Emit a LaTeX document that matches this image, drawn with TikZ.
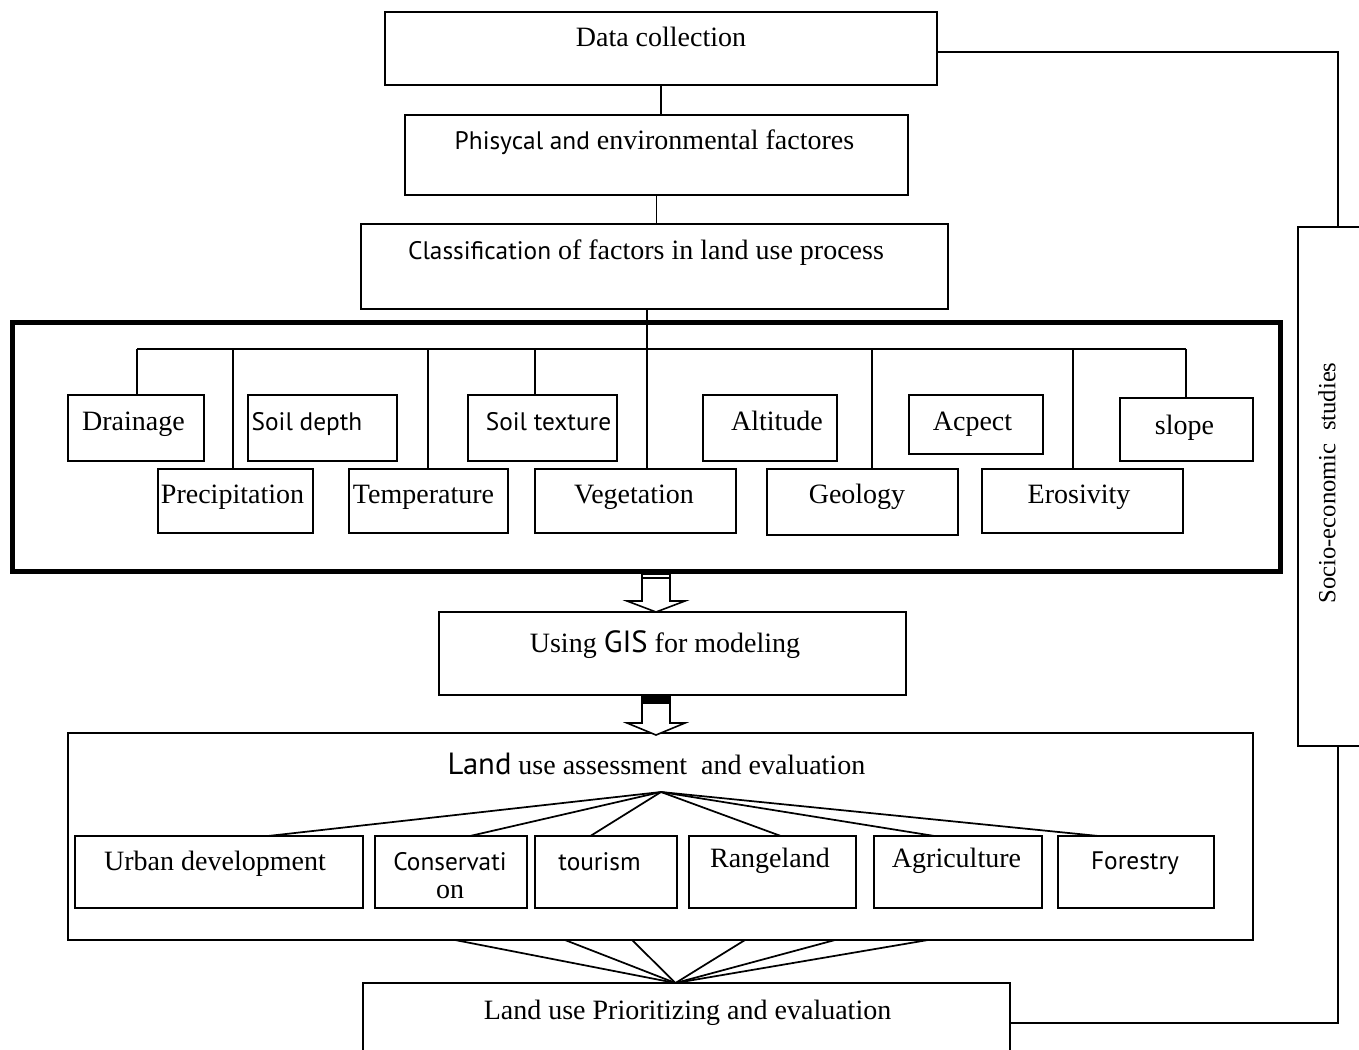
\documentclass[tikz,border=0pt]{standalone}
\usepackage{fontspec}
\setmainfont{Liberation Serif}
\newfontfamily\psans{PT Sans}
\usetikzlibrary{calc}
\begin{document}
\begin{tikzpicture}[x=0.75pt,y=-0.75pt]
\tikzset{
  box/.style={draw, line width=1.3pt, inner sep=0pt, outer sep=0pt, anchor=north west},
  sz/.style 2 args={minimum width=#1*0.75pt, minimum height=#2*0.75pt},
  txt/.style={inner sep=0pt, anchor=base, font=\fontsize{21}{25}\selectfont},
  ss/.style={font=\psans\fontsize{19}{23}\selectfont},
  conn/.style={line width=1.3pt},
  fan/.style={line width=1.3pt},
  hollow/.style={draw, fill=white, line width=1.2pt, line join=miter},
}
\newcommand{\sst}[1]{{\psans\fontsize{19}{23}\selectfont #1}}
\newcommand{\sbig}[1]{{\psans\fontsize{23}{27}\selectfont #1}}
\fill[white] (0,0) rectangle (1359,1049);
\useasboundingbox (0,0) rectangle (1359,1049);

% main boxes
\node[box, sz={552}{73}] (dc) at (385,12) {};
\node[box, sz={503}{80}] (phys) at (405,115) {};
\node[box, sz={587}{85}] (cls) at (361,224) {};
\node[box, sz={1268}{249}, line width=3.75pt] (fac) at (12,322) {};
\node[box, sz={467}{83}] (gis) at (439,612) {};
\node[box, sz={1185}{207}] (land) at (68,733) {};
\node[box, sz={647}{80}] (prio) at (363,983) {};
\node[box, sz={80}{519}] (socio) at (1298,227) {};

% factor boxes
\node[box, sz={136}{66}] (drain) at (68,395) {};
\node[box, sz={149}{66}] (sdep) at (248,395) {};
\node[box, sz={149}{66}] (stex) at (468,395) {};
\node[box, sz={134}{66}] (alt) at (703,395) {};
\node[box, sz={134}{59}] (acp) at (909,395) {};
\node[box, sz={133}{63}] (slope) at (1120,398) {};
\node[box, sz={155}{64}] (prec) at (158,469) {};
\node[box, sz={159}{64}] (temp) at (349,469) {};
\node[box, sz={201}{64}] (veg) at (535,469) {};
\node[box, sz={191}{66}] (geo) at (767,469) {};
\node[box, sz={201}{64}] (ero) at (982,469) {};

% land use boxes
\node[box, sz={288}{72}] (urb) at (75,836) {};
\node[box, sz={152}{72}] (cons) at (375,836) {};
\node[box, sz={142}{72}] (tour) at (535,836) {};
\node[box, sz={167}{72}] (rang) at (689,836) {};
\node[box, sz={168}{72}] (agri) at (874,836) {};
\node[box, sz={156}{72}] (fore) at (1058,836) {};

% texts
\node[txt] (t-dc) at (661,47) {Data collection};
\node[txt] (t-phys) at (654.5,149) {\sst{Phisycal and} environmental factores};
\node[txt] (t-cls) at (646,259) {\sst{Classification} of factors in land use process};
\node[txt] (t-drain) at (133.5,430) {Drainage};
\node[txt, ss] (t-sdep) at (307,430) {Soil depth};
\node[txt, ss] (t-stex) at (548.5,430) {Soil texture};
\node[txt] (t-alt) at (777,430) {Altitude};
\node[txt] (t-acp) at (972.5,430) {Acpect};
\node[txt] (t-slope) at (1184.5,434) {slope};
\node[txt] (t-prec) at (232.5,503) {Precipitation};
\node[txt] (t-temp) at (423.5,503) {Temperature};
\node[txt] (t-veg) at (634,503) {Vegetation};
\node[txt] (t-geo) at (857,503) {Geology};
\node[txt] (t-ero) at (1079,503) {Erosivity};
\node[txt] (t-gis) at (665,652) {Using \sbig{GIS} for modeling};
\node[txt] (t-land) at (656.5,774) {\sbig{Land} use assessment\ \ and evaluation};
\node[txt] (t-urb) at (215,870) {Urban development};
\node[txt, ss] (t-cons) at (450,870) {Conservati};
\node[txt] (t-cons2) at (450,898) {on};
\node[txt, ss] (t-tour) at (599.5,870) {tourism};
\node[txt] (t-rang) at (770,867) {Rangeland};
\node[txt] (t-agri) at (956.5,867) {Agriculture};
\node[txt, ss] (t-fore) at (1135,869) {Forestry};
\node[txt] (t-prio) at (687.5,1019) {Land use Prioritizing and evaluation};
\node[inner sep=0pt, rotate=90, font=\fontsize{18.5}{22}\selectfont] (t-socio) at (1327,483) {Socio-economic\ \ studies};

% vertical connectors top
\draw[conn] (dc.south) -- (dc.south |- phys.north);
\draw[conn] (phys.south) -- (phys.south |- cls.north);

% bus
\coordinate (busL) at (137,349);
\coordinate (busR) at (1186,349);
\draw[conn] (busL) -- (busR);
\coordinate (b1) at (137,349);
\coordinate (b2) at (233,349);
\coordinate (b3) at (428,349);
\coordinate (b4) at (535,349);
\coordinate (b5) at (647,349);
\coordinate (b6) at (872,349);
\coordinate (b7) at (1073,349);
\coordinate (b8) at (1186,349);
\draw[conn] (b1) -- (b1 |- drain.north);
\draw[conn] (b2) -- (b2 |- prec.north);
\draw[conn] (b3) -- (b3 |- temp.north);
\draw[conn] (b4) -- (b4 |- stex.north);
\draw[conn] (b5 |- cls.south) -- (b5 |- veg.north);
\draw[conn] (b6) -- (b6 |- geo.north);
\draw[conn] (b7) -- (b7 |- ero.north);
\draw[conn] (b8) -- (b8 |- slope.north);

% socio connectors
\coordinate (rtop) at (1338,52);
\coordinate (rbot) at (1338,1023);
\draw[conn] (dc.east |- rtop) -- (rtop) -- (rtop |- socio.north);
\draw[conn] (prio.east |- rbot) -- (rbot) -- (rbot |- socio.south);

% hollow arrows
\draw[hollow] (642,572) -- (642,601) -- (627,601) -- (656,612) -- (685,601) -- (670,601) -- (670,572);
\fill (642,572) rectangle (670,575);
\draw[line width=0.8pt] (642,578) -- (670,578);
\draw[hollow] (642,695) -- (642,723) -- (627,723) -- (656,735) -- (685,723) -- (670,723) -- (670,695);
\fill (642,695) rectangle (670,704);

% fan top
\coordinate (apex) at (661,792);
\draw[fan] (apex) -- ($(urb.north west)!0.67!(urb.north east)$);
\draw[fan] (apex) -- ($(cons.north west)!0.625!(cons.north east)$);
\draw[fan] (apex) -- ($(tour.north west)!0.39!(tour.north east)$);
\draw[fan] (apex) -- ($(rang.north west)!0.55!(rang.north east)$);
\draw[fan] (apex) -- ($(agri.north west)!0.36!(agri.north east)$);
\draw[fan] (apex) -- ($(fore.north west)!0.26!(fore.north east)$);

% fan bottom
\coordinate (papex) at ($(prio.north west)!0.483!(prio.north east)$);
\foreach \f in {0.3266,0.4194,0.476,0.5713,0.6473,0.7257}{
  \draw[fan] ($(land.south west)!\f!(land.south east)$) -- (papex);
}
\end{tikzpicture}
\end{document}
